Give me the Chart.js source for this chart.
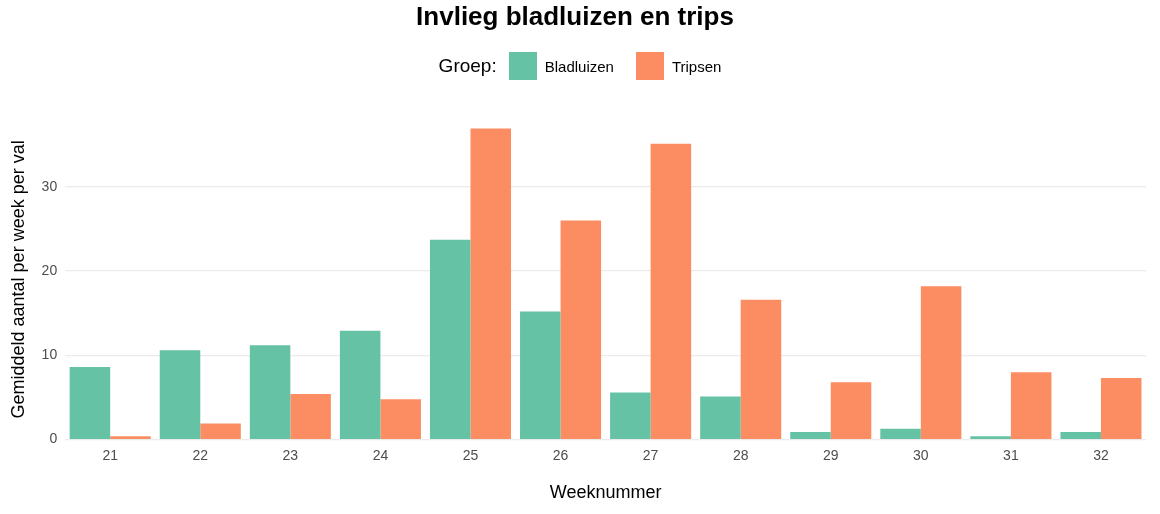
<!DOCTYPE html>
<html><head><meta charset="utf-8">
<script src="https://cdn.jsdelivr.net/npm/chart.js"></script>
<style>
body{margin:0;background:#fff;font-family:Arial,"Liberation Sans",sans-serif}
#wrap{position:relative;width:1160px;height:514px}
#leg{position:absolute;top:52px;left:0;width:1160px;text-align:center;font-size:17px;color:#000}
#leg span{display:inline-block;vertical-align:middle}
.sw{width:28px;height:28px;margin:0 8px 0 10px}
.lt{font-size:15px}
</style></head><body>
<div id="wrap"><canvas id="c" width="1160" height="514"></canvas>
<div id="leg"><span style="font-size:19px;margin-right:2px">Groep:</span><span class="sw" style="background:#66C2A5"></span><span class="lt">Bladluizen</span><span class="sw" style="background:#FC8D62;margin-left:22px"></span><span class="lt">Tripsen</span></div>
</div>
<script>
const weeks=["21","22","23","24","25","26","27","28","29","30","31","32"];
const bladluizen=[8.6,10.6,11.2,12.9,23.7,15.2,5.6,5.1,0.9,1.3,0.4,0.9];
const tripsen=[0.4,1.9,5.4,4.8,36.9,26.0,35.1,16.6,6.8,18.2,8.0,7.3];
new Chart(document.getElementById('c'),{
type:'bar',
data:{labels:weeks,datasets:[
{label:'Bladluizen',data:bladluizen,backgroundColor:'#66C2A5'},
{label:'Tripsen',data:tripsen,backgroundColor:'#FC8D62'}]},
options:{responsive:false,animation:false,
categoryPercentage:0.9,barPercentage:1,
layout:{padding:{left:4,right:14,bottom:6}},
plugins:{legend:{display:false},tooltip:{enabled:false},
title:{display:true,text:'Invlieg bladluizen en trips',color:'#000',font:{size:26,weight:'bold',family:'Arial'},padding:{top:2,bottom:86}}},
scales:{
x:{grid:{display:false},border:{display:false},ticks:{color:'#4d4d4d',font:{size:14},padding:0},
title:{display:true,text:'Weeknummer',color:'#000',font:{size:18},padding:{top:18}}},
y:{min:0,max:38,border:{display:false},grid:{color:'#ebebeb',lineWidth:1.2,drawTicks:false},
afterBuildTicks:a=>{a.ticks=[0,10,20,30].map(v=>({value:v}));},
ticks:{color:'#4d4d4d',font:{size:14},padding:8},
title:{display:true,text:'Gemiddeld aantal per week per val',color:'#000',font:{size:18},padding:{bottom:4}}}
}}});
</script></body></html>
